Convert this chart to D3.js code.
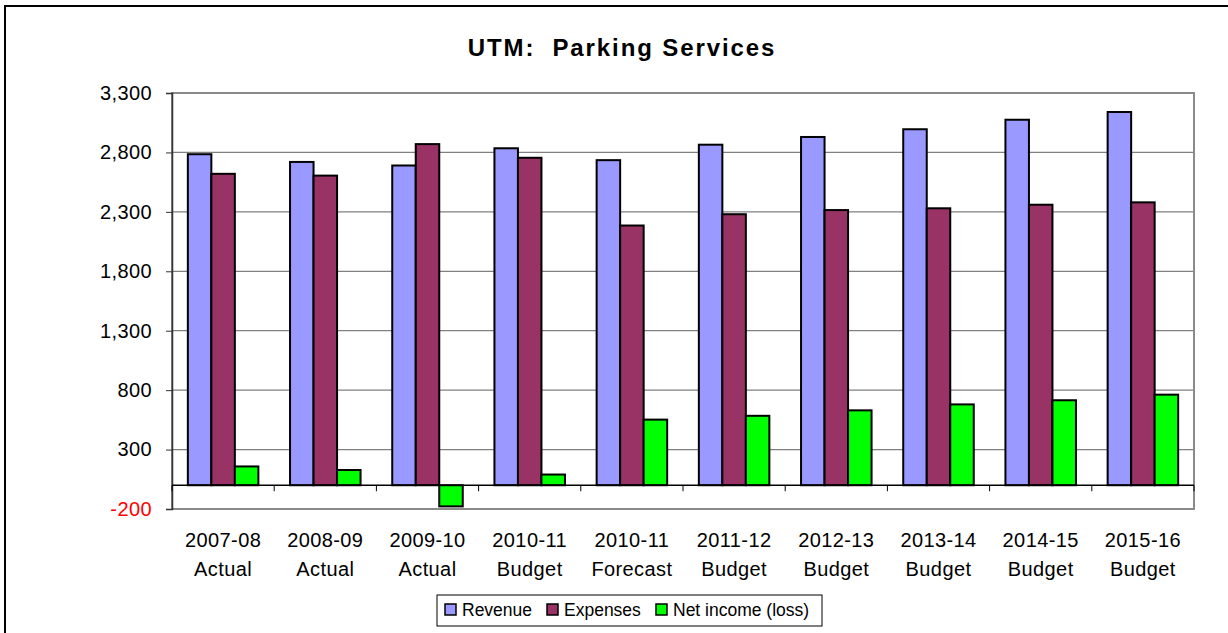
<!DOCTYPE html>
<html>
<head>
<meta charset="utf-8">
<script src="https://cdn.jsdelivr.net/npm/d3@7"></script>
<style>
  body { margin: 0; background: #fff; }
  svg text { font-family: Arial, "Liberation Sans", sans-serif; }
</style>
</head>
<body>
<div id="chart"></div>
<script>
// chart data
var years = ["2007-08", "2008-09", "2009-10", "2010-11", "2010-11", "2011-12", "2012-13", "2013-14", "2014-15", "2015-16"]
var kinds = ["Actual", "Actual", "Actual", "Budget", "Forecast", "Budget", "Budget", "Budget", "Budget", "Budget"]
var revenue = [2785, 2720, 2690, 2835, 2735, 2865, 2930, 2995, 3075, 3140]
var expenses = [2620, 2605, 2870, 2755, 2185, 2280, 2315, 2330, 2360, 2380]
var netIncome = [158, 128, -178, 90, 552, 584, 630, 680, 715, 762]
var seriesNames = ["Revenue", "Expenses", "Net income (loss)"]
var yTicks = [-200, 300, 800, 1300, 1800, 2300, 2800, 3300]

var colors = ["#9999FF", "#993366", "#00FF00"]
var seriesValues = [revenue, expenses, netIncome]

var width = 1228, height = 633
// plot area edges (note: "top" is reserved on window, so use plot* names)
var plotLeft = 172, plotRight = 1194, plotTop = 93, plotBottom = 509

var svg = d3.select("#chart").append("svg")
    .attr("width", width)
    .attr("height", height)

// outer chart border
svg.append("rect")
    .attr("x", 5).attr("y", 6)
    .attr("width", 1240).attr("height", 650)
    .attr("fill", "#fff")
    .attr("stroke", "#000")
    .attr("stroke-width", 2)

svg.append("text")
    .attr("x", 622).attr("y", 56)
    .attr("text-anchor", "middle")
    .attr("font-size", 24)
    .attr("font-weight", "bold")
    .style("letter-spacing", "1.9px")
    .style("white-space", "pre")
    .text("UTM:  Parking Services")

var y = d3.scaleLinear().domain([-200, 3300]).range([plotBottom, plotTop])
var x = d3.scaleBand().domain(d3.range(years.length)).range([plotLeft, plotRight]).padding(0)
var step = x.bandwidth()
var groupW = step * 0.69
var x1 = d3.scaleBand().domain(d3.range(3))
    .range([(step - groupW) / 2, (step + groupW) / 2]).padding(0)

// gridlines
svg.append("g").selectAll("line")
    .data(yTicks)
    .enter().append("line")
    .attr("x1", plotLeft).attr("x2", plotRight)
    .attr("y1", function(d) { return y(d) }).attr("y2", function(d) { return y(d) })
    .attr("stroke", "#808080")
    .attr("stroke-width", 1.2)

// plot area border
svg.append("rect")
    .attr("x", plotLeft).attr("y", plotTop)
    .attr("width", plotRight - plotLeft).attr("height", plotBottom - plotTop)
    .attr("fill", "none")
    .attr("stroke", "#8a8a8a")
    .attr("stroke-width", 2)

// y axis (plain hyphen for negatives, like the original)
var fmt = d3.format(",")
var yAxis = svg.append("g")
    .attr("transform", "translate(" + plotLeft + ",0)")
    .call(d3.axisLeft(y).tickValues(yTicks).tickSize(6).tickPadding(14)
      .tickFormat(function(d) { return (d < 0 ? "-" : "") + fmt(Math.abs(d)) }))
yAxis.select(".domain").attr("stroke", "#333").attr("stroke-width", 1.5)
yAxis.selectAll(".tick line").attr("stroke", "#333")
yAxis.selectAll("text")
    .attr("font-size", 20)
    .style("letter-spacing", "0.4px")
    .attr("fill", function(d) { return d < 0 ? "#FF0000" : "#000" })

// bars
var groups = svg.append("g").selectAll("g")
    .data(years)
    .enter().append("g")
    .attr("transform", function(d, i) { return "translate(" + x(i) + ",0)" })

groups.selectAll("rect")
    .data(function(d, i) { return seriesValues.map(function(s, k) { return {k: k, v: s[i]} }) })
    .enter().append("rect")
    .attr("x", function(d) { return x1(d.k) })
    .attr("width", x1.bandwidth())
    .attr("y", function(d) { return y(Math.max(0, d.v)) })
    .attr("height", function(d) { return Math.abs(y(d.v) - y(0)) })
    .attr("fill", function(d) { return colors[d.k] })
    .attr("stroke", "#000")
    .attr("stroke-width", 2)

// category axis on zero line with ticks between groups
var xAxis = svg.append("g")
    .attr("transform", "translate(0," + y(0) + ")")
xAxis.append("line")
    .attr("x1", plotLeft).attr("x2", plotRight)
    .attr("stroke", "#000").attr("stroke-width", 1.5)
xAxis.selectAll(".tk")
    .data(d3.range(years.length + 1))
    .enter().append("line")
    .attr("x1", function(i) { return plotLeft + i * step }).attr("x2", function(i) { return plotLeft + i * step })
    .attr("y1", 0).attr("y2", 6)
    .attr("stroke", "#000")

// category labels
var labels = svg.append("g").selectAll("text")
    .data(years)
    .enter().append("text")
    .attr("text-anchor", "middle")
    .attr("font-size", 20)
    .style("letter-spacing", "0.4px")
    .attr("x", function(d, i) { return x(i) + step / 2 })
labels.append("tspan")
    .attr("x", function(d, i) { return x(i) + step / 2 })
    .attr("y", 547)
    .text(function(d) { return d })
labels.append("tspan")
    .attr("x", function(d, i) { return x(i) + step / 2 })
    .attr("y", 576)
    .text(function(d, i) { return kinds[i] })

// legend
svg.append("rect")
    .attr("x", 437).attr("y", 595)
    .attr("width", 385).attr("height", 31)
    .attr("fill", "#fff")
    .attr("stroke", "#000")
    .attr("stroke-width", 1)
var legX = [445, 547, 656]
seriesNames.forEach(function(name, k) {
  svg.append("rect")
      .attr("x", legX[k]).attr("y", 604)
      .attr("width", 11).attr("height", 11)
      .attr("fill", colors[k])
      .attr("stroke", "#000")
      .attr("stroke-width", 1.5)
  svg.append("text")
      .attr("x", legX[k] + 17).attr("y", 616)
      .attr("font-size", 17.5)
      .text(name)
})
</script>
</body>
</html>
